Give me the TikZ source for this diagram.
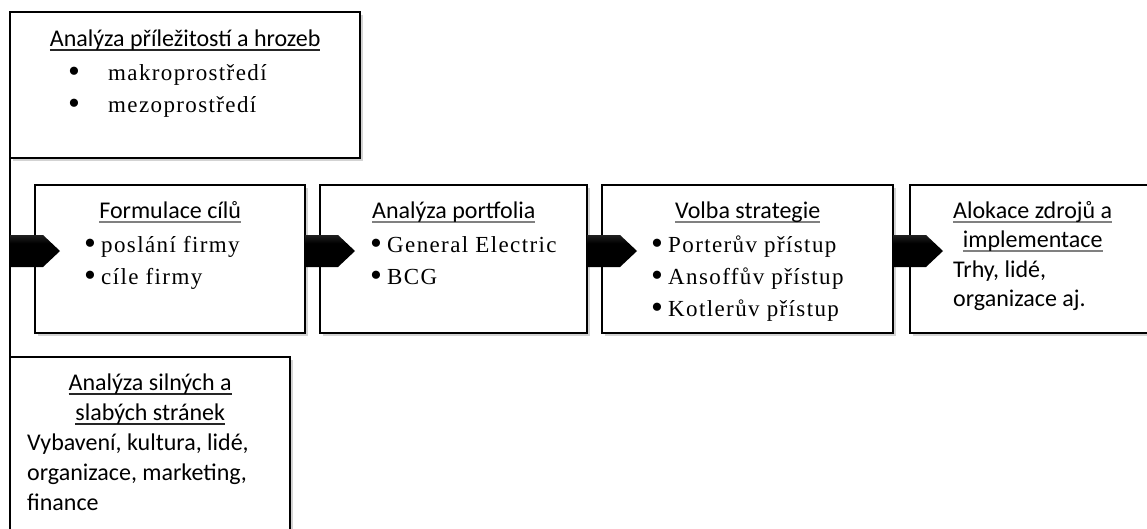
\documentclass[tikz,border=0pt]{standalone}
\usepackage{fontspec}
\setmainfont{Carlito}
\newfontfamily\listfont[LetterSpace=6]{Liberation Serif}
\usetikzlibrary{positioning,calc,shadows}
\pgfdeclareverticalshading{arrowshade}{100bp}{color(0bp)=(black); color(62bp)=(black); color(88bp)=(black!75); color(100bp)=(black!50)}
\newcommand\hd[2][gray]{\leavevmode\sbox0{#2}\rlap{\color{#1}\rule[-4.5pt]{\wd0}{2pt}}\usebox0}
\newcommand\itm[3][15pt]{\hspace*{#2}\makebox[#1][l]{\hspace*{-2pt}\raisebox{-2.5pt}{\fontsize{34pt}{0pt}\selectfont•}}#3\par}

\begin{document}
\begin{tikzpicture}[x=1pt, y=1pt,
    box/.style={rectangle, draw, line width=2.5pt, fill=white, inner sep=0pt, outer sep=0pt, drop shadow={shadow xshift=3pt, shadow yshift=-3pt, opacity=0.35}},
    txt/.style={inner sep=0pt, anchor=base west, font=\fontsize{24pt}{30pt}\selectfont},
    bigarrow/.style={to path={($(\tikztostart)+(0,-8)$) -- ($(\tikztotarget)+(#1-17,-8)$) -- ($(\tikztotarget)+(#1,8)$) -- ($(\tikztotarget)+(#1-17,24)$) -- ($(\tikztostart)+(0,24)$) -- cycle}}]
    \path [use as bounding box, clip] (0,0) rectangle (1147,-528);
    \node [box, minimum width=350pt, minimum height=146pt, anchor=north west] (hrozby) at (10,-12) {};
    \node [box, minimum width=270pt, minimum height=148pt, anchor=north west] (formul) at (35,-185) {};
    \node [box, minimum width=267pt, minimum height=148pt, right=15pt of formul] (portf) {};
    \node [box, minimum width=291pt, minimum height=148pt, right=15pt of portf] (volba) {};
    \node [box, minimum width=245pt, minimum height=148pt, right=17pt of volba] (alok) {};
    \node [box, minimum width=280pt, minimum height=210pt, anchor=north west] (silne) at (10,-357) {};
    \draw [line width=2.5pt] (hrozby.south west) -- (silne.north west);
    \coordinate (split) at (hrozby.south west |- formul.west);
    \shade [shading=arrowshade, bigarrow=25] (split) to (formul.west);
    \shade [shading=arrowshade, bigarrow=35] (formul.east) to (portf.west);
    \shade [shading=arrowshade, bigarrow=35] (portf.east) to (volba.west);
    \shade [shading=arrowshade, bigarrow=33] (volba.east) to (alok.west);
    \node [txt] (hrozbytxt) at ($(hrozby.north west)+(0,-34)$) {\parbox[t]{350pt}{\centering\hd[black!85]{Analýza příležitostí a hrozeb}\par\vspace{2pt}\raggedright\listfont\fontsize{23pt}{32pt}\selectfont
        \itm[38pt]{60pt}{makroprostředí}\itm[38pt]{60pt}{mezoprostředí}}};
    \node [txt] (formultxt) at ($(formul.north west)+(0,-33)$) {\parbox[t]{270pt}{\centering\hd{Formulace cílů}\par\vspace{2pt}\raggedright\listfont\fontsize{23pt}{32pt}\selectfont
        \itm{51pt}{poslání firmy}\itm{51pt}{cíle firmy}}};
    \node [txt] (portftxt) at ($(portf.north west)+(0,-33)$) {\parbox[t]{267pt}{\centering\hd{Analýza portfolia}\par\vspace{2pt}\raggedright\listfont\fontsize{23pt}{32pt}\selectfont
        \itm{52pt}{General Electric}\itm{52pt}{BCG}}};
    \node [txt] (volbatxt) at ($(volba.north west)+(0,-33)$) {\parbox[t]{291pt}{\centering\hd{Volba strategie}\par\vspace{2pt}\raggedright\listfont\fontsize{23pt}{32pt}\selectfont
        \itm{51pt}{Porterův přístup}\itm{51pt}{Ansoffův přístup}\itm{51pt}{Kotlerův přístup}}};
    \node [txt] (aloktxt) at ($(alok.north west)+(0,-33)$) {\parbox[t]{245pt}{\fontsize{24pt}{29.5pt}\selectfont\centering\hd{Alokace zdrojů a}\par\hd{implementace}\par\raggedright
        \hspace*{43pt}Trhy, lidé,\par\hspace*{43pt}organizace aj.\par}};
    \node [txt] (silnetxt) at ($(silne.north west)+(0,-33)$) {\parbox[t]{280pt}{\centering\hd[black!85]{Analýza silných a}\par\hd[black!85]{slabých stránek}\par\raggedright
        \hspace*{17pt}Vybavení, kultura, lidé,\par\hspace*{17pt}organizace, marketing,\par\hspace*{17pt}finance\par}};
\end{tikzpicture}
\end{document}
